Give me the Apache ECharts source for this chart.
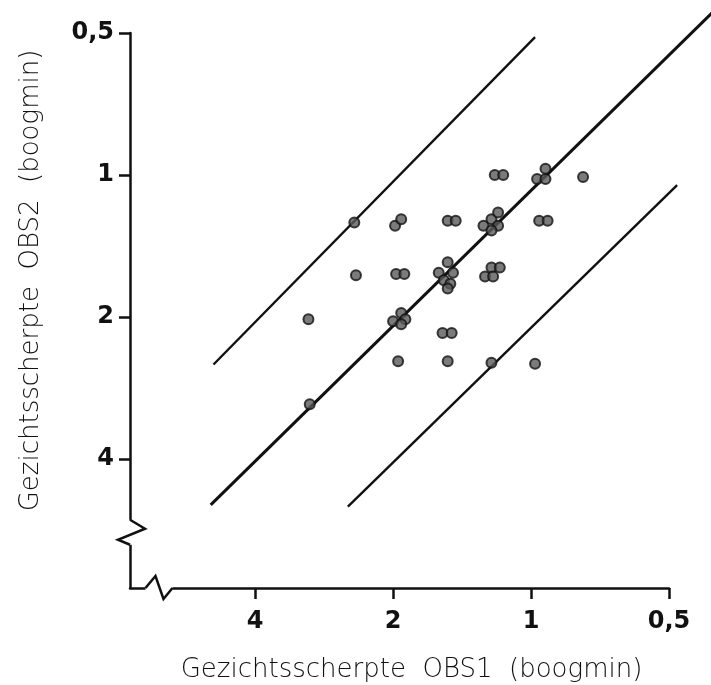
<!DOCTYPE html>
<html>
<head>
<meta charset="utf-8">
<title>Gezichtsscherpte OBS1 - OBS2</title>
<script src="https://cdn.jsdelivr.net/npm/echarts@6.0.0/dist/echarts.min.js"></script>
<style>
  html, body { margin: 0; padding: 0; background: #fff; }
  #chart { width: 711px; height: 685px; }
</style>
</head>
<body>
<div id="chart"></div>
<script>
// ticks (boogmin), both axes are log2 and reversed
const tickValues = [0.5, 1, 2, 4];
const tickLabels = ['0,5', '1', '2', '4'];
const axisMin = 0.5;
const axisMax = 7.5;
// where the zigzag break sits on each axis
const xBreakAt = 6.5;
const yBreakAt = 5.7;

// gezichtsscherpte per oog: OBS1 (x) en OBS2 (y)
const obs1 = [0.48, 0.77, 1.20, 1.15, 0.97, 0.93, 0.93,
  2.43, 1.98, 1.92, 1.52, 1.46, 1.27, 1.22, 1.18, 1.18, 1.22, 0.96, 0.92,
  2.41, 1.97, 1.89, 1.52, 1.59, 1.48, 1.55, 1.50, 1.52, 1.22, 1.17, 1.26, 1.21,
  3.06, 2.00, 1.92, 1.88, 1.92, 1.56, 1.49,
  1.95, 1.52, 1.22, 0.98,
  3.04];
const obs2 = [0.65, 1.01, 1.00, 1.00, 1.02, 1.02, 0.97,
  1.26, 1.28, 1.24, 1.25, 1.25, 1.28, 1.24, 1.20, 1.28, 1.31, 1.25, 1.25,
  1.63, 1.62, 1.62, 1.53, 1.61, 1.61, 1.67, 1.70, 1.74, 1.57, 1.57, 1.64, 1.64,
  2.02, 2.04, 1.96, 2.02, 2.07, 2.16, 2.16,
  2.48, 2.48, 2.50, 2.51,
  3.06];

// reference lines (end points as drawn)
const mainLineX = [5.0, 0.40];
const mainLineY = [5.0, 0.45];
const upperLineX = [4.93, 0.98];
const upperLineY = [2.52, 0.51];
const lowerLineX = [2.51, 0.48];
const lowerLineY = [5.04, 1.05];

const lg = v => Math.log2(v);
const pairs = (xs, ys) => xs.map((x, i) => [lg(x), lg(ys[i])]);

const ink = '#111';
const tickFont = {fontFamily: 'DejaVu Sans', fontWeight: 'bold', fontSize: 24, color: ink};
const nameFont = {fontFamily: 'DejaVu Sans', fontWeight: 200, fontSize: 26, color: ink};

function tickLabel(v) {
  const i = tickValues.findIndex(t => Math.abs(lg(t) - v) < 1e-6);
  return i >= 0 ? tickLabels[i] : '';
}

function makeAxis(extra) {
  return Object.assign({
    type: 'value',
    inverse: true,
    min: lg(axisMin),
    max: lg(axisMax),
    interval: 1,
    nameLocation: 'middle',
    splitLine: {show: false},
    axisLine: {show: true, onZero: false, lineStyle: {color: ink, width: 2.5}},
    axisTick: {show: true, length: 11, lineStyle: {color: ink, width: 2.5}, customValues: tickValues.map(lg)},
  }, extra);
}

// a straight reference line; 'lines' so that clip:false really draws past the grid
function refLine(xs, ys, width) {
  return {
    type: 'lines',
    coordinateSystem: 'cartesian2d',
    clip: false,
    silent: true,
    data: [{coords: pairs(xs, ys)}],
    lineStyle: {color: ink, width: width, opacity: 1, curveness: 0},
    z: 2
  };
}

const chart = echarts.init(document.getElementById('chart'));

const option = {
  backgroundColor: '#fff',
  animation: false,
  grid: {left: 130, right: 42, top: 33, bottom: 97, containLabel: false, outerBoundsMode: 'none'},
  xAxis: makeAxis({
    name: 'Gezichtsscherpte  OBS1  (boogmin)',
    nameGap: 69,
    nameTextStyle: Object.assign({padding: [0, 0, 0, 24]}, nameFont),
    axisLabel: Object.assign({margin: 22, formatter: tickLabel, customValues: tickValues.map(lg)}, tickFont),
  }),
  yAxis: makeAxis({
    name: 'Gezichtsscherpte  OBS2  (boogmin)',
    nameGap: 86,
    nameTextStyle: Object.assign({padding: [0, 0, 0, 60]}, nameFont),
    axisLabel: Object.assign({margin: 16, formatter: tickLabel, customValues: tickValues.map(lg)}, tickFont),
  }),
  series: [
    refLine(mainLineX, mainLineY, 3),
    refLine(upperLineX, upperLineY, 2.4),
    refLine(lowerLineX, lowerLineY, 2.4),
    {
      type: 'scatter',
      data: pairs(obs1, obs2),
      symbol: 'circle',
      symbolSize: 10,
      itemStyle: {color: '#5a5a5a', borderColor: ink, borderWidth: 2},
      z: 3
    }
  ]
};
chart.setOption(option);

// zigzag breaks on both axes near the origin
function drawBreaks() {
  const x0 = chart.convertToPixel({xAxisIndex: 0}, lg(axisMax));
  const y0 = chart.convertToPixel({yAxisIndex: 0}, lg(axisMax));
  const xc = chart.convertToPixel({xAxisIndex: 0}, lg(xBreakAt));
  const yc = chart.convertToPixel({yAxisIndex: 0}, lg(yBreakAt));
  const stroke = {stroke: ink, lineWidth: 2.5, fill: null, lineJoin: 'miter'};
  chart.setOption({
    graphic: [
      {type: 'rect', z: 100, shape: {x: x0 - 3, y: yc - 12, width: 6, height: 25}, style: {fill: '#fff'}},
      {type: 'polyline', z: 101, shape: {points: [[x0, yc - 12], [x0 + 15, yc - 3], [x0 - 12, yc + 8], [x0, yc + 13]]}, style: stroke},
      {type: 'rect', z: 100, shape: {x: xc - 13, y: y0 - 3, width: 27, height: 6}, style: {fill: '#fff'}},
      {type: 'polyline', z: 101, shape: {points: [[xc - 13, y0], [xc - 3, y0 - 12], [xc + 5, y0 + 11], [xc + 14, y0]]}, style: stroke}
    ]
  });
}
drawBreaks();
</script>
</body>
</html>
